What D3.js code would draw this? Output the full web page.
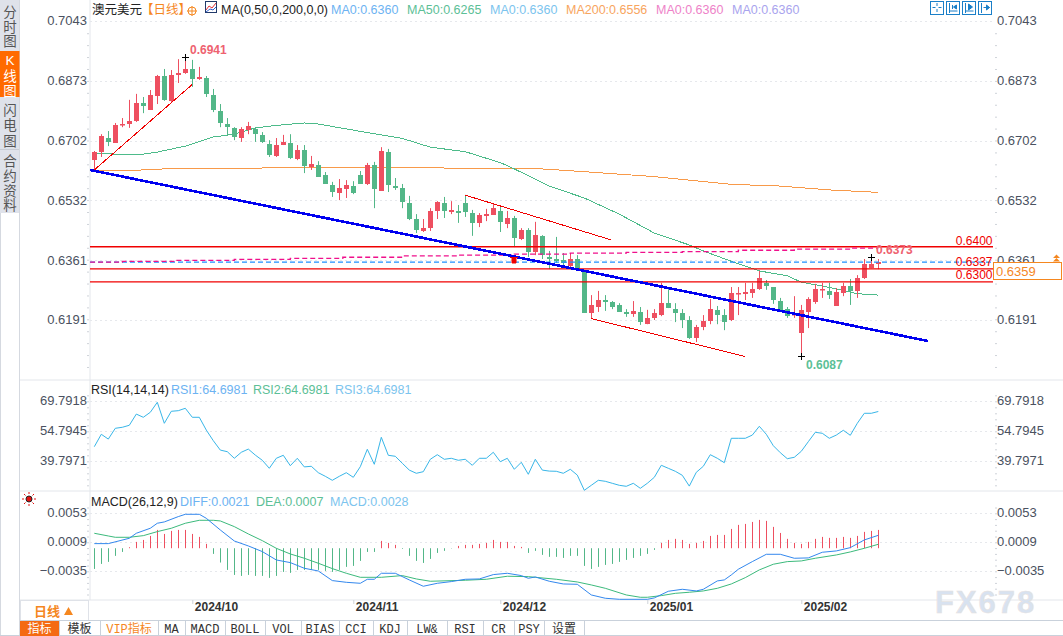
<!DOCTYPE html>
<html>
<head>
<meta charset="utf-8">
<script src="https://cdn.jsdelivr.net/npm/d3@7"></script>
<style>
  html, body { margin: 0; padding: 0; background: #fff; }
  svg { display: block; }
  text { font-family: "Liberation Sans", "Noto Sans CJK SC", sans-serif; }
</style>
</head>
<body>
<div id="chart"></div>
<script>
// AUD/USD daily candles
const opens = [
  .6647,.6670,.6710,.6696,.6747,.6750,.6759,.6810,.6790,.6830,.6887,.6816,.6890,.6896,.6907,.6878,.6881,.6833,.6787,.6750,
  .6739,.6710,.6733,.6736,.6719,.6693,.6659,.6690,.6696,.6650,.6676,.6627,.6633,.6605,.6576,.6553,.6565,.6573,.6605,.6579,
  .6633,.6559,.6670,.6573,.6567,.6525,.6479,.6445,.6453,.6502,.6525,.6499,.6502,.6525,.6496,.6468,.6488,.6491,.6502,.6465,
  .6482,.6422,.6448,.6385,.6431,.6371,.6365,.6362,.6345,.6365,.6334,.6211,.6228,.6248,.6242,.6234,.6214,.6208,.6214,.6179,
  .6197,.6205,.6239,.6222,.6211,.6191,.6139,.6171,.6188,.6220,.6205,.6191,.6265,.6265,.6268,.6279,.6297,.6285,.6245,.6222,
  .6205,.6154,.6214,.6242,.6277,.6274,.6231,.6268,.6288,.6274,.6311,.6339,.6350];
const highs = [
  .6673,.6721,.6730,.6753,.6767,.6819,.6836,.6827,.6847,.6890,.6907,.6904,.6935,.6941,.6933,.6913,.6887,.6850,.6807,.6767,
  .6741,.6741,.6756,.6741,.6727,.6704,.6710,.6719,.6721,.6690,.6690,.6659,.6644,.6613,.6585,.6593,.6590,.6587,.6616,.6639,
  .6642,.6684,.6679,.6596,.6579,.6545,.6493,.6479,.6510,.6530,.6542,.6530,.6519,.6548,.6505,.6496,.6508,.6522,.6513,.6502,
  .6488,.6453,.6453,.6471,.6433,.6388,.6428,.6382,.6382,.6376,.6334,.6262,.6274,.6262,.6245,.6239,.6222,.6245,.6228,.6220,
  .6222,.6297,.6279,.6239,.6222,.6202,.6177,.6205,.6251,.6231,.6222,.6285,.6285,.6297,.6297,.6331,.6305,.6285,.6254,.6228,
  .6259,.6234,.6256,.6294,.6297,.6297,.6282,.6297,.6308,.6319,.6365,.6371,.6365];
const lows = [
  .6619,.6656,.6687,.6696,.6741,.6739,.6756,.6781,.6790,.6807,.6816,.6813,.6867,.6893,.6856,.6876,.6827,.6784,.6741,.6716,
  .6704,.6699,.6721,.6699,.6696,.6656,.6656,.6690,.6650,.6647,.6610,.6619,.6599,.6579,.6542,.6533,.6539,.6550,.6579,.6576,
  .6510,.6559,.6556,.6562,.6510,.6476,.6439,.6442,.6445,.6479,.6482,.6493,.6468,.6485,.6431,.6456,.6473,.6491,.6442,.6453,
  .6399,.6419,.6371,.6376,.6365,.6336,.6354,.6348,.6336,.6336,.6211,.6194,.6214,.6217,.6222,.6214,.6200,.6200,.6177,.6179,
  .6191,.6202,.6225,.6185,.6168,.6137,.6128,.6162,.6179,.6179,.6162,.6188,.6205,.6248,.6254,.6277,.6277,.6237,.6214,.6197,
  .6197,.6087,.6168,.6237,.6254,.6251,.6231,.6259,.6234,.6254,.6308,.6339,.6336];
const closes = [
  .6670,.6716,.6699,.6747,.6750,.6759,.6810,.6801,.6833,.6887,.6819,.6890,.6896,.6907,.6878,.6884,.6836,.6790,.6753,.6741,
  .6713,.6736,.6744,.6721,.6699,.6662,.6690,.6699,.6653,.6676,.6630,.6636,.6599,.6579,.6556,.6567,.6576,.6553,.6579,.6633,
  .6565,.6673,.6576,.6567,.6528,.6479,.6448,.6453,.6502,.6528,.6502,.6505,.6496,.6499,.6468,.6491,.6493,.6510,.6471,.6482,
  .6425,.6448,.6385,.6433,.6376,.6365,.6359,.6354,.6365,.6336,.6211,.6234,.6248,.6242,.6228,.6214,.6208,.6217,.6185,.6197,
  .6211,.6239,.6225,.6211,.6191,.6139,.6171,.6188,.6222,.6205,.6185,.6268,.6268,.6271,.6279,.6311,.6288,.6248,.6220,.6202,
  .6208,.6220,.6251,.6279,.6279,.6262,.6271,.6288,.6274,.6311,.6351,.6351,.6356];

// moving averages, read at the candle numbers listed next to them
const ma50Index = [0,3,7,9,13,17,20,23,26,30,32,36,41,44,48,53,58,60,65,70,75,80,85,87,92,95,99,101,105,109,112];
const ma50 = [.6667,.6664,.6664,.6670,.6687,.6713,.6721,.6739,.6746,.6753,.6750,.6736,.6719,.6709,.6684,.6671,.6640,.6622,.6573,.6539,.6493,.6439,.6405,.6388,.6351,.6331,.6317,.6299,.6284,.6266,.6262];
const ma200Index = [0,4,7,11,36,55,63,67,70,75,80,84,91,98,105,112];
const ma200 = [.6616,.6617,.6619,.6623,.6626,.6624,.6623,.6618,.6614,.6607,.6600,.6592,.6578,.6573,.6562,.6555];
const stepIndex = [-0.6,4,11.5,20,28,35.5,44,52,60,68,76,84,92,100,108,112];
const stepLine = [.6356,.6358,.6361,.6364,.6367,.6370,.6374,.6376,.6379,.6382,.6384,.6386,.6390,.6393,.6396,.6396];

const rsi = [
  47.1,53.3,50.9,56.3,56.8,57.8,63.4,61.8,64.3,69.3,58.8,64.8,65.1,66.3,61.8,61.8,55.4,50.1,45.4,44.6,
  41.3,44.3,45.9,42.9,40.3,36.3,41.3,42.8,37.6,41.3,37.0,37.3,34.1,32.3,30.3,32.3,34.1,31.8,37.1,45.8,
  38.3,51.8,42.8,42.3,38.8,35.4,33.8,34.6,40.8,43.1,40.8,41.3,40.3,40.8,37.8,41.3,41.3,44.3,39.6,41.3,
  35.8,39.3,33.3,40.8,35.4,34.9,34.8,33.8,35.8,32.9,25.3,27.8,30.3,29.8,28.8,27.8,27.3,28.8,26.3,28.8,
  31.8,37.8,36.3,34.8,32.8,27.4,34.3,37.3,43.1,41.3,39.1,51.3,51.3,51.3,52.9,57.3,53.3,47.6,44.1,41.1,
  41.8,44.8,49.6,54.3,53.8,51.3,52.9,55.3,52.8,58.8,63.8,63.8,64.7];

const macdBars = [
  -.00314,-.00238,-.00207,-.00116,-.00056,.00015,.00096,.00126,.00187,.00278,.00217,.00263,.00278,.00278,.00217,.00172,.00066,-.00086,-.00217,-.00329,
  -.00405,-.0042,-.00405,-.0042,-.0042,-.0045,-.0042,-.00359,-.00374,-.00329,-.00329,-.00329,-.00329,-.00344,-.00359,-.00329,-.00283,-.00268,-.00192,-.00056,
  -.00056,.00111,.00081,.00051,-.0001,-.00116,-.00192,-.00223,-.00162,-.00071,-.0004,-.00005,.00035,.00051,.00051,.00066,.00081,.00126,.00096,.00096,
  .00035,.0002,-.00071,-.0004,-.00101,-.00131,-.00131,-.00147,-.00116,-.00116,-.00268,-.00314,-.00283,-.00253,-.00238,-.00207,-.00177,-.00147,-.00116,-.00086,
  -.00025,.00081,.00126,.00142,.00126,.00066,.00081,.00111,.00187,.00202,.00202,.00293,.00354,.00369,.00399,.0043,.00415,.00324,.00232,.00142,
  .00081,.00066,.00096,.00142,.00172,.00157,.00157,.00172,.00157,.00187,.00248,.00263,.00278];
const diffIndex = [0,2,5,6,8,9,10,12,13,15,16,18,20,22,24,26,28,30,32,34,36,38,39,40,41,43,45,47,49,51,53,55,57,59,61,62,63,65,67,69,71,73,75,79,80,82,84,86,87,89,90,91,92,94,96,98,100,102,104,106,108,110,112];
const diff = [.00070,.00070,.00151,.00227,.00303,.00379,.00399,.00480,.00515,.00515,.00454,.00277,.00110,.00035,-.00051,-.00178,-.00218,-.00304,-.00345,-.00491,-.00517,-.00532,-.00471,-.00471,-.00380,-.00380,-.00481,-.00577,-.00532,-.00506,-.00471,-.00466,-.00400,-.00380,-.00415,-.00456,-.00436,-.00501,-.00542,-.00547,-.00709,-.00759,-.00775,-.00775,-.00754,-.00653,-.00623,-.00648,-.00623,-.00496,-.00481,-.00405,-.00319,-.00203,-.00092,-.00092,-.00152,-.00147,-.00061,-.00041,.00009,.00126,.00196];
const deaIndex = [0,2,3,5,7,9,11,13,15,17,18,20,22,24,26,28,30,32,34,36,38,41,44,46,48,53,56,59,62,63,66,69,71,73,76,78,79,81,83,85,87,89,91,93,95,97,99,101,103,106,108,110,112];
const dea = [.00227,.00186,.00166,.00166,.00191,.00252,.00303,.00379,.00424,.00424,.00414,.00328,.00217,.00115,-.00001,-.00087,-.00152,-.00228,-.00309,-.00380,-.00441,-.00441,-.00415,-.00466,-.00501,-.00486,-.00471,-.00425,-.00431,-.00441,-.00471,-.00512,-.00557,-.00608,-.00709,-.00744,-.00744,-.00719,-.00684,-.00668,-.00648,-.00608,-.00542,-.00446,-.00329,-.00243,-.00203,-.00193,-.00152,-.00102,-.00056,-.00001,.00060];

// things drawn by hand on the chart: [candle, price, candle, price]
const blueTrend = [-0.6, .6619, 119.1, .6131];
const redTrends = [
  [0, .6619, 14, .6863],
  [53, .6547, 73.9, .6419],
  [71, .6195, 93, .6087]
];
const hLines = [.6400, .6337, .6300];

const priceTicks = [.7043, .6873, .6702, .6532, .6361, .6191];
const rsiTicks = [69.7918, 54.7945, 39.7971];
const macdTicks = [.0053, .0009, -.0035];
const monthIndex = [14, 37, 58, 79, 101];
const monthLabels = ["2024/10", "2024/11", "2024/12", "2025/01", "2025/02"];

const sideTabs = [
  {chars: ["分", "时", "图"], ys: [12, 27, 41]},
  {chars: ["K", "线", "图"], ys: [60, 76, 91], on: true},
  {chars: ["闪", "电", "图"], ys: [110, 125, 141]},
  {chars: ["合", "约", "资", "料"], ys: [161, 176, 191, 205]}
];
const menuLabels = ["指标", "模板", "VIP指标", "MA", "MACD", "BOLL", "VOL", "BIAS", "CCI", "KDJ", "LW&", "RSI", "CR", "PSY", "设置"];
const menuEdges = [20, 59, 100, 158, 185, 225, 265, 301, 339, 373, 407, 447, 483, 514, 544, 584];

const width = 1063;
const height = 636;
const left = 90;
const right = 993;
const up = "#ee4f60";
const down = "#53b788";

const svg = d3.select("#chart").append("svg")
  .attr("width", width)
  .attr("height", height)
  .attr("viewBox", [0, 0, width, height]);

const x = d3.scaleLinear().domain([0, 112]).range([94.3, 878.3]);
const y = d3.scaleLinear().domain([.7043, .6191]).range([21.3, 320]);
const yRsi = d3.scaleLinear().domain([69.7918, 39.7971]).range([401.3, 461.3]);
const yMacd = d3.scaleLinear().domain([.0053, -.0035]).range([513.3, 571.3]);
const cx = i => Math.round(x(i) - 2.5) + 2.5;

// panel frame
const frame = svg.append("g").attr("stroke", "#e3e6eb").attr("fill", "none");
[[left, 0, left, 600], [20, 380, width, 380], [20, 491, width, 491], [20, 600, width, 600]].forEach(d => {
  frame.append("line").attr("x1", d[0]).attr("y1", d[1]).attr("x2", d[2]).attr("y2", d[3]);
});

// value axes, one pair per panel
function valueAxes(scale, ticks, fmt, top, bottom) {
  const step = Math.abs(ticks[1] - ticks[0]) / 5;
  const minor = d3.range(-8, 30).map(k => ticks[0] - k * step * Math.sign(ticks[0] - ticks[1]))
    .filter(v => scale(v) >= top && scale(v) <= bottom);

  [[d3.axisLeft, left - 1], [d3.axisRight, right + 2]].forEach(([axis, px]) => {
    svg.append("g")
      .attr("transform", `translate(${px},0)`)
      .call(axis(scale).tickValues(minor).tickSize(2).tickFormat(""))
      .call(g => g.select(".domain").remove())
      .call(g => g.selectAll("line").attr("stroke", "#cfd3d9"));
  });

  svg.append("g")
    .selectAll("line").data(ticks).join("line")
    .attr("x1", left).attr("x2", right)
    .attr("y1", d => Math.round(scale(d)) + 0.5).attr("y2", d => Math.round(scale(d)) + 0.5)
    .attr("stroke", "#e6e8ec").attr("stroke-dasharray", "2,3");

  svg.append("g")
    .attr("transform", `translate(${left},0)`)
    .call(d3.axisLeft(scale).tickValues(ticks).tickSize(0).tickFormat(fmt))
    .call(g => g.select(".domain").remove())
    .call(g => g.selectAll("text").attr("font-size", 13).attr("fill", "#4a5160").attr("dy", "0.28em"));

  svg.append("g")
    .attr("transform", `translate(${right + 1},0)`)
    .call(d3.axisRight(scale).tickValues(ticks).tickSize(0).tickFormat(fmt))
    .call(g => g.select(".domain").remove())
    .call(g => g.selectAll("text").attr("font-size", 13).attr("fill", "#4a5160").attr("dy", "0.28em"));
}
valueAxes(y, priceTicks, d3.format(".4f"), 22, 378);
valueAxes(yRsi, rsiTicks, d3.format(".4f"), 390, 488);
valueAxes(yMacd, macdTicks, d3.format(".4f"), 505, 598);

// averages
const ma = d3.line().x(d => x(d[0])).y(d => y(d[1]));
svg.append("path").attr("d", ma(d3.zip(ma200Index, ma200)))
  .attr("fill", "none").attr("stroke", "#f89a4a").attr("stroke-width", 1).attr("shape-rendering", "crispEdges");
svg.append("path").attr("d", ma(d3.zip(ma50Index, ma50)))
  .attr("fill", "none").attr("stroke", "#4dbb8a").attr("stroke-width", 1).attr("shape-rendering", "crispEdges");

// candles
const candles = d3.range(opens.length);
const colorOf = i => closes[i] >= opens[i] ? up : down;
svg.append("g").selectAll("line").data(candles).join("line")
  .attr("x1", cx).attr("x2", cx)
  .attr("y1", i => y(highs[i])).attr("y2", i => y(lows[i]))
  .attr("stroke", colorOf);
svg.append("g").selectAll("rect").data(candles).join("rect")
  .attr("x", i => cx(i) - 2.5)
  .attr("width", 5)
  .attr("y", i => Math.round(y(Math.max(opens[i], closes[i]))))
  .attr("height", i => Math.max(1.5, Math.round(Math.abs(y(opens[i]) - y(closes[i])))))
  .attr("fill", colorOf);

// horizontal levels and the dashed last price
svg.append("g").selectAll("line").data(hLines).join("line")
  .attr("x1", left).attr("x2", right)
  .attr("y1", d => y(d)).attr("y2", d => y(d))
  .attr("stroke", "#f00000").attr("stroke-width", 1.3);
svg.append("line")
  .attr("x1", left).attr("x2", right)
  .attr("y1", y(closes[closes.length - 1])).attr("y2", y(closes[closes.length - 1]))
  .attr("stroke", "#1e90ff").attr("stroke-width", 1.3).attr("stroke-dasharray", "5,3");
svg.append("path")
  .attr("d", d3.line().curve(d3.curveStepAfter).x(d => x(d[0])).y(d => y(d[1]))(d3.zip(stepIndex, stepLine)))
  .attr("fill", "none").attr("stroke", "#f0108c").attr("stroke-width", 1.3).attr("stroke-dasharray", "5,3");

// hand drawn trend lines
svg.append("g").selectAll("line").data(redTrends).join("line")
  .attr("x1", d => x(d[0])).attr("y1", d => y(d[1]))
  .attr("x2", d => x(d[2])).attr("y2", d => y(d[3]))
  .attr("stroke", "#f00000").attr("stroke-width", 1).attr("shape-rendering", "crispEdges");
svg.append("line")
  .attr("x1", x(blueTrend[0])).attr("y1", y(blueTrend[1]))
  .attr("x2", x(blueTrend[2])).attr("y2", y(blueTrend[3]))
  .attr("stroke", "#0000f0").attr("stroke-width", 2.6).attr("shape-rendering", "crispEdges");

// red arrow sitting on the trend line
svg.append("path").attr("d", "M510,257.5h8M512,258h4v5h-4z").attr("stroke", "#f00000").attr("fill", "#f00000");

// high / low marks
function cross(i, price) {
  const px = cx(i), py = Math.round(y(price)) + 0.5;
  svg.append("path").attr("d", `M${px - 3.5},${py}h7M${px},${py - 3.5}v7`).attr("stroke", "#000").attr("fill", "none");
}
cross(13, highs[13]);
cross(101, lows[101]);
cross(111, highs[111]);

svg.append("text").attr("x", 190).attr("y", 54).attr("font-size", 12).attr("font-weight", "bold").attr("fill", "#ee6270").text("0.6941");
svg.append("text").attr("x", 806).attr("y", 369).attr("font-size", 12).attr("font-weight", "bold").attr("fill", "#5cc096").text("0.6087");
svg.append("text").attr("x", 876).attr("y", 254).attr("font-size", 12).attr("font-weight", "bold").attr("fill", "#ee6270").text("0.6373");

hLines.forEach((v, k) => {
  svg.append("text")
    .attr("x", 992.5).attr("y", [244.5, 265.5, 278.5][k])
    .attr("text-anchor", "end").attr("font-size", 12).attr("fill", "#f00000")
    .text(d3.format(".4f")(v));
});

// last price box
svg.append("rect").attr("x", 993.5).attr("y", 262.5).attr("width", 68).attr("height", 17).attr("fill", "#fff").attr("stroke", "#f5871f");
svg.append("text").attr("x", 996).attr("y", 275.5).attr("font-size", 13).attr("fill", "#f5871f").text("0.6359");
svg.append("path").attr("d", "M1056.5,254.5l3.5,3.5h-7zM1056.5,258l3.5,3.5h-7z").attr("fill", "#f5871f");

// RSI
svg.append("path")
  .attr("d", d3.line().x((d, i) => x(i)).y(d => yRsi(d))(rsi))
  .attr("fill", "none").attr("stroke", "#38b6e8").attr("stroke-width", 1);

// MACD
svg.append("g").selectAll("line").data(macdBars).join("line")
  .attr("x1", (d, i) => cx(i)).attr("x2", (d, i) => cx(i))
  .attr("y1", yMacd(0)).attr("y2", d => yMacd(d))
  .attr("stroke", d => d >= 0 ? up : down);
const macdLine = d3.line().x(d => x(d[0])).y(d => yMacd(d[1]));
svg.append("path").attr("d", macdLine(d3.zip(deaIndex, dea)))
  .attr("fill", "none").attr("stroke", "#3cba7c").attr("stroke-width", 1);
svg.append("path").attr("d", macdLine(d3.zip(diffIndex, diff)))
  .attr("fill", "none").attr("stroke", "#3388ee").attr("stroke-width", 1);

// months
svg.append("g")
  .attr("transform", "translate(0,600)")
  .call(d3.axisBottom(x).tickValues(monthIndex).tickSize(4).tickFormat((d, i) => monthLabels[i]))
  .call(g => g.select(".domain").remove())
  .call(g => g.selectAll("line").attr("stroke", "#cfd3d9"))
  .call(g => g.selectAll("text")
    .attr("text-anchor", "start").attr("x", 2).attr("y", 2).attr("dy", "0.71em")
    .attr("font-size", 12).attr("font-weight", "bold").attr("fill", "#333"));

// legends
function legend(py, items) {
  items.forEach(d => {
    svg.append("text").attr("x", d[0]).attr("y", py).attr("font-size", 12.5).attr("fill", d[2]).text(d[1]);
  });
}
legend(14, [
  [92, "澳元美元", "#222"], [141, "【日线】", "#f5871f"], [221, "MA(0,50,0,200,0,0)", "#222"],
  [331, "MA0:0.6360", "#6db3f2"], [407, "MA50:0.6265", "#5cc096"], [490, "MA0:0.6360", "#7cc4ee"],
  [566, "MA200:0.6556", "#f8a55e"], [656, "MA0:0.6360", "#ee82c8"], [732, "MA0:0.6360", "#a9a4ee"]
]);
legend(394, [
  [91, "RSI(14,14,14)", "#222"], [171, "RSI1:64.6981", "#6db3f2"],
  [253, "RSI2:64.6981", "#5cc096"], [335, "RSI3:64.6981", "#7cc4ee"]
]);
legend(506, [
  [91, "MACD(26,12,9)", "#222"], [180, "DIFF:0.0021", "#6db3f2"],
  [256, "DEA:0.0007", "#5cc096"], [330, "MACD:0.0028", "#7cc4ee"]
]);

// small header icons
svg.append("circle").attr("cx", 192).attr("cy", 11).attr("r", 4).attr("fill", "none").attr("stroke", "#f5871f");
svg.append("path").attr("d", "M187,11h10M192,6v10").attr("stroke", "#f5871f");
svg.append("rect").attr("x", 205.5).attr("y", 1.5).attr("width", 11).attr("height", 11).attr("fill", "#fff").attr("stroke", "#223a6a");
svg.append("path").attr("d", "M206,10l3,-4l3,2l4,-5").attr("fill", "none").attr("stroke", "#e0303a");
svg.append("path").attr("d", "M206,12l4,-3l3,1l3,-3").attr("fill", "none").attr("stroke", "#3060d0");
[930.5, 946.5, 962.5, 978.5].forEach((bx, k) => {
  svg.append("rect").attr("x", bx).attr("y", 1.5).attr("width", 13).attr("height", 13).attr("fill", "#fff").attr("stroke", "#1a7fc8");
  const glyph = [
    `M${bx + 6.5},3v3M${bx + 6.5},9v3M${bx + 2},7.5h3M${bx + 8},7.5h3`,
    `M${bx + 3},3v10M${bx + 3},11h8M${bx + 6},5v4M${bx + 10},5l-3,2l3,2z`,
    `M${bx + 3},3v10M${bx + 3},11h8M${bx + 6},4l4,3l-4,3z`,
    `M${bx + 3},3v10M${bx + 5},7.5h6M${bx + 8},5l3,2.5l-3,2.5z`
  ][k];
  svg.append("path").attr("d", glyph).attr("fill", "#1a7fc8").attr("stroke", "#1a7fc8");
});

// red sun icon by MACD
svg.append("circle").attr("cx", 29).attr("cy", 499).attr("r", 3).attr("fill", "#e01010").attr("stroke", "#222");
svg.append("path").attr("d", "M29,492v2M29,504v2M22,499h2M34,499h2M24,494l1.5,1.5M34,494l-1.5,1.5M24,504l1.5,-1.5M34,504l-1.5,-1.5")
  .attr("stroke", "#e01010");

// left side tabs
svg.append("rect").attr("x", 0).attr("y", 0).attr("width", 19.5).attr("height", 213).attr("fill", "#dfe2ea");
svg.append("line").attr("x1", 19.5).attr("x2", 19.5).attr("y1", 0).attr("y2", height).attr("stroke", "#d5d9e0");
svg.append("line").attr("x1", 0.5).attr("x2", 0.5).attr("y1", 213).attr("y2", height).attr("stroke", "#d5d9e0");
svg.append("rect").attr("x", 0).attr("y", 51).attr("width", 19.5).attr("height", 46).attr("fill", "#ff6a00");
svg.append("line").attr("x1", 0).attr("x2", 19).attr("y1", 149.5).attr("y2", 149.5).attr("stroke", "#c8ccd4");
sideTabs.forEach(tab => {
  tab.chars.forEach((c, k) => {
    svg.append("text")
      .attr("x", 10).attr("y", tab.ys[k] + 5)
      .attr("text-anchor", "middle").attr("font-size", 13.5)
      .attr("fill", tab.on ? "#fff" : "#555")
      .text(c);
  });
});

// bottom menu
svg.append("rect").attr("x", 20.5).attr("y", 600.5).attr("width", 68).attr("height", 20).attr("fill", "#fff").attr("stroke", "#dfe2e8");
svg.append("text").attr("x", 34).attr("y", 616).attr("font-size", 13).attr("fill", "#f5871f").attr("font-weight", "bold").text("日线");
svg.append("path").attr("d", "M64,615l4.5,-8l4.5,8z").attr("fill", "#f5871f");
svg.append("line").attr("x1", 20).attr("x2", width).attr("y1", 620.5).attr("y2", 620.5).attr("stroke", "#c9d1db");
svg.append("line").attr("x1", 0).attr("x2", width).attr("y1", 635.5).attr("y2", 635.5).attr("stroke", "#c9d1db");
svg.append("rect").attr("x", 20).attr("y", 621).attr("width", 39).attr("height", 15).attr("fill", "#f46a12");
menuLabels.forEach((label, k) => {
  svg.append("line").attr("x1", menuEdges[k + 1] + 0.5).attr("x2", menuEdges[k + 1] + 0.5).attr("y1", 621).attr("y2", 636).attr("stroke", "#c9d1db");
  svg.append("text")
    .attr("x", (menuEdges[k] + menuEdges[k + 1]) / 2).attr("y", 632.5)
    .attr("text-anchor", "middle")
    .attr("font-size", 12)
    .style("font-family", '"Liberation Mono", "Noto Sans CJK SC", monospace')
    .attr("fill", k === 0 ? "#fff" : k === 2 ? "#f5871f" : "#333")
    .text(label);
});

// watermark
svg.append("text").attr("x", 935).attr("y", 613).attr("font-size", 31).attr("font-weight", "bold")
  .attr("letter-spacing", 2).attr("fill", "#d8e2f0").attr("stroke", "#e8e2dc").attr("stroke-width", 0.5).text("FX678");
</script>
</body>
</html>
